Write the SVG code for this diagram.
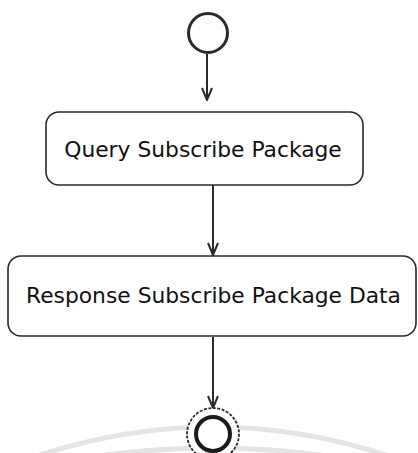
<svg xmlns="http://www.w3.org/2000/svg" width="418" height="453" viewBox="0 0 418 453">
  <style>
    .box { fill: #ffffff; stroke: #2a2a2a; stroke-width: 1.6; }
    .lbl { font-family: "DejaVu Sans", "Liberation Sans", sans-serif; font-size: 21.8px; fill: #111111; text-anchor: middle; }
    .edge { fill: none; stroke: #2a2a2a; stroke-width: 2; }
    .wm { fill: none; stroke: #e4e4e4; stroke-width: 5; }
  </style>
  <defs>
    <marker id="arr" viewBox="0 0 14 12" refX="13" refY="6" markerWidth="14" markerHeight="12" markerUnits="userSpaceOnUse" orient="auto">
      <path d="M1 1 L13 6 L1 11" fill="none" stroke="#2a2a2a" stroke-width="2"/>
    </marker>
  </defs>
  <rect width="418" height="453" fill="#ffffff"/>
  <g id="watermark">
    <path class="wm" d="M40 455 Q213 399 386 455"/>
    <path class="wm" d="M105 455 Q213 441 321 455"/>
  </g>
  <g id="connectors">
    <path class="edge" d="M207 54 V100" marker-end="url(#arr)"/>
    <path class="edge" d="M213 185 V255" marker-end="url(#arr)"/>
    <path class="edge" d="M213 337 V408" marker-end="url(#arr)"/>
  </g>
  <g id="start">
    <circle cx="208" cy="33" r="19.5" fill="#ffffff" stroke="#2a2a2a" stroke-width="3"/>
  </g>
  <g id="query">
    <rect class="box" x="46" y="112" width="317" height="73" rx="13" ry="13"/>
    <text class="lbl" x="203" y="157">Query Subscribe Package</text>
  </g>
  <g id="response">
    <rect class="box" x="8" y="256" width="408" height="80" rx="13" ry="13"/>
    <text class="lbl" x="213.5" y="303">Response Subscribe Package Data</text>
  </g>
  <g id="end">
    <circle cx="213" cy="434" r="26" fill="#ffffff" stroke="#2a2a2a" stroke-width="1.8" stroke-dasharray="3 1.5"/>
    <circle cx="213" cy="434" r="17" fill="#ffffff" stroke="#1a1a1a" stroke-width="4"/>
  </g>
</svg>
